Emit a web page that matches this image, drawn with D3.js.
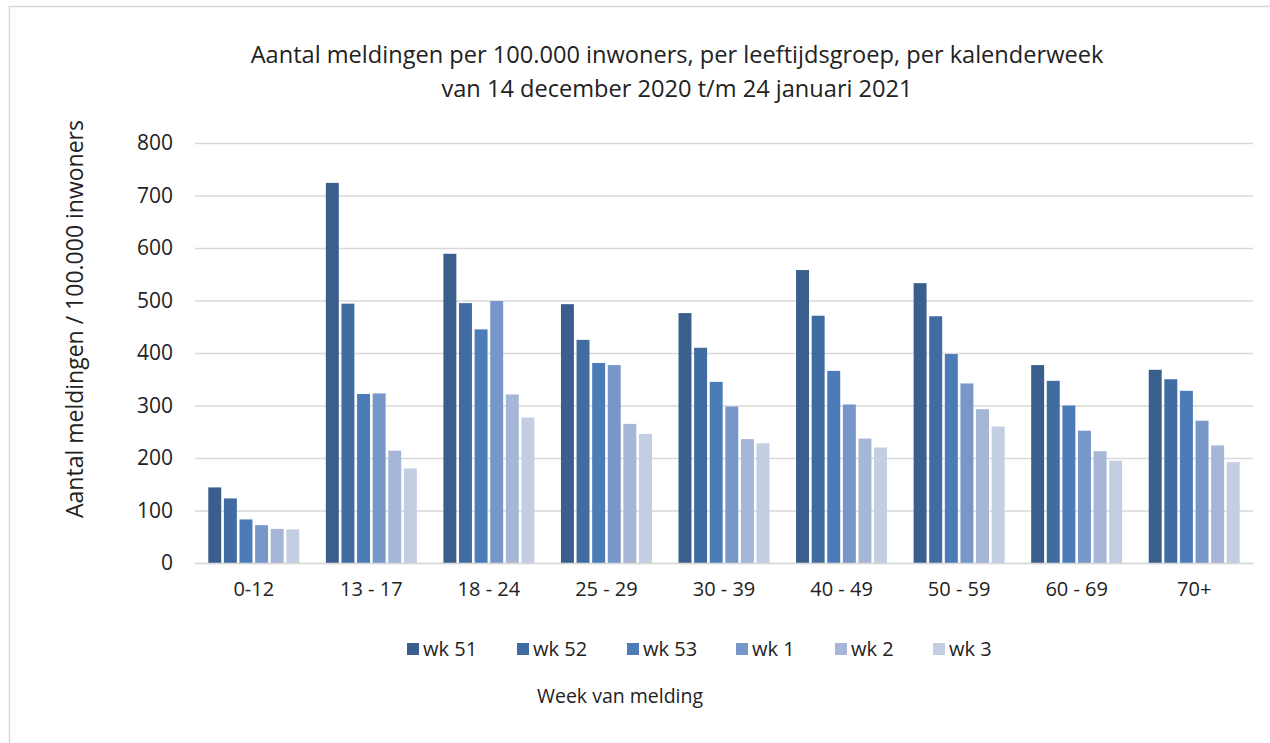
<!DOCTYPE html>
<html>
<head>
<meta charset="utf-8">
<script src="https://cdn.jsdelivr.net/npm/d3@7"></script>
<style>
  body { margin: 0; background: #fff; }
  svg { display: block; font-family: "Open Sans", "Noto Sans", sans-serif; }
</style>
</head>
<body>
<div id="chart"></div>
<script>
// age groups and weekly series (per 100.000 inwoners)
const groups = ["0-12", "13 - 17", "18 - 24", "25 - 29", "30 - 39", "40 - 49", "50 - 59", "60 - 69", "70+"];
const weeks = ["wk 51", "wk 52", "wk 53", "wk 1", "wk 2", "wk 3"];
const wk51 = [144, 724, 589, 493, 476, 558, 533, 377, 368];
const wk52 = [123, 494, 495, 425, 410, 471, 470, 347, 350];
const wk53 = [83, 322, 445, 381, 345, 366, 398, 300, 328];
const wk1 = [72, 323, 499, 377, 298, 302, 342, 252, 271];
const wk2 = [65, 214, 321, 265, 236, 237, 293, 213, 224];
const wk3 = [64, 180, 277, 246, 228, 220, 260, 195, 192];
const yTicks = [0, 100, 200, 300, 400, 500, 600, 700, 800];
const colors = ["#3a5f8c", "#416ca2", "#4b7cb8", "#7897c9", "#a5b6d6", "#c3cee3"];

const seriesValues = [wk51, wk52, wk53, wk1, wk2, wk3];
const rows = groups.map((g, i) => ({
  group: g,
  values: weeks.map((w, j) => ({ week: w, value: seriesValues[j][i] }))
}));

const width = 1270, height = 743;
const plot = { left: 195, right: 1253, top: 143, bottom: 563 };

const svg = d3.select("#chart")
  .append("svg")
  .attr("width", width)
  .attr("height", height);

// outer frame (runs off the right and bottom edges)
svg.append("rect")
  .attr("x", 9.5)
  .attr("y", 6.5)
  .attr("width", width)
  .attr("height", height)
  .attr("fill", "none")
  .attr("stroke", "#d9d9d9")
  .attr("stroke-width", 1.5);

const x0 = d3.scaleBand()
  .domain(groups)
  .range([plot.left, plot.right]);

const x1 = d3.scaleBand()
  .domain(weeks)
  .range([x0.bandwidth() * 0.113, x0.bandwidth() * 0.887])
  .paddingInner(0.17);

const y = d3.scaleLinear()
  .domain([0, 800])
  .range([plot.bottom, plot.top]);

const color = d3.scaleOrdinal().domain(weeks).range(colors);

// gridlines + tick labels
const yAxis = svg.append("g")
  .attr("transform", `translate(${plot.left},0)`)
  .call(d3.axisLeft(y).tickValues(yTicks).tickSize(-(plot.right - plot.left)).tickPadding(22));
yAxis.select(".domain").remove();
yAxis.selectAll(".tick line").attr("stroke", "#d9d9d9").attr("stroke-width", 1.5);
yAxis.selectAll(".tick text")
  .attr("font-size", 21)
  .attr("fill", "#222")
  .attr("font-family", "'Open Sans', sans-serif");

// bars
svg.append("g")
  .selectAll("g")
  .data(rows)
  .join("g")
  .attr("transform", (d) => `translate(${x0(d.group)},0)`)
  .selectAll("rect")
  .data((d) => d.values)
  .join("rect")
  .attr("x", (d) => x1(d.week))
  .attr("y", (d) => y(d.value))
  .attr("width", x1.bandwidth())
  .attr("height", (d) => y(0) - y(d.value))
  .attr("fill", (d) => color(d.week));

// x axis
const xAxis = svg.append("g")
  .attr("transform", `translate(0,${plot.bottom})`)
  .call(d3.axisBottom(x0).tickSize(0).tickPadding(19));
xAxis.select(".domain").attr("stroke", "#d9d9d9").attr("stroke-width", 1.5);
xAxis.selectAll(".tick text")
  .attr("font-size", 20)
  .attr("fill", "#222")
  .attr("font-family", "'Open Sans', sans-serif");

// title
const title = svg.append("text")
  .attr("text-anchor", "middle")
  .attr("font-size", 23.6)
  .attr("fill", "#222");
title.append("tspan").attr("x", 677).attr("y", 63)
  .text("Aantal meldingen per 100.000 inwoners, per leeftijdsgroep, per kalenderweek");
title.append("tspan").attr("x", 677).attr("y", 97)
  .text("van 14 december 2020 t/m 24 januari 2021");

// y axis title
svg.append("text")
  .attr("transform", "translate(83,319) rotate(-90)")
  .attr("text-anchor", "middle")
  .attr("font-size", 23)
  .attr("fill", "#222")
  .text("Aantal meldingen / 100.000 inwoners");

// legend
const legendX = [407, 517, 627, 736, 835, 933];
const legend = svg.append("g")
  .selectAll("g")
  .data(weeks)
  .join("g")
  .attr("transform", (d, i) => `translate(${legendX[i]},649)`);
legend.append("rect")
  .attr("x", 0)
  .attr("y", -6)
  .attr("width", 12)
  .attr("height", 12)
  .attr("fill", (d) => color(d));
legend.append("text")
  .attr("x", 16)
  .attr("y", 7)
  .attr("font-size", 20)
  .attr("fill", "#222")
  .text((d) => d);

// x axis title
svg.append("text")
  .attr("x", 620)
  .attr("y", 703)
  .attr("text-anchor", "middle")
  .attr("font-size", 19.5)
  .attr("fill", "#222")
  .text("Week van melding");
</script>
</body>
</html>
